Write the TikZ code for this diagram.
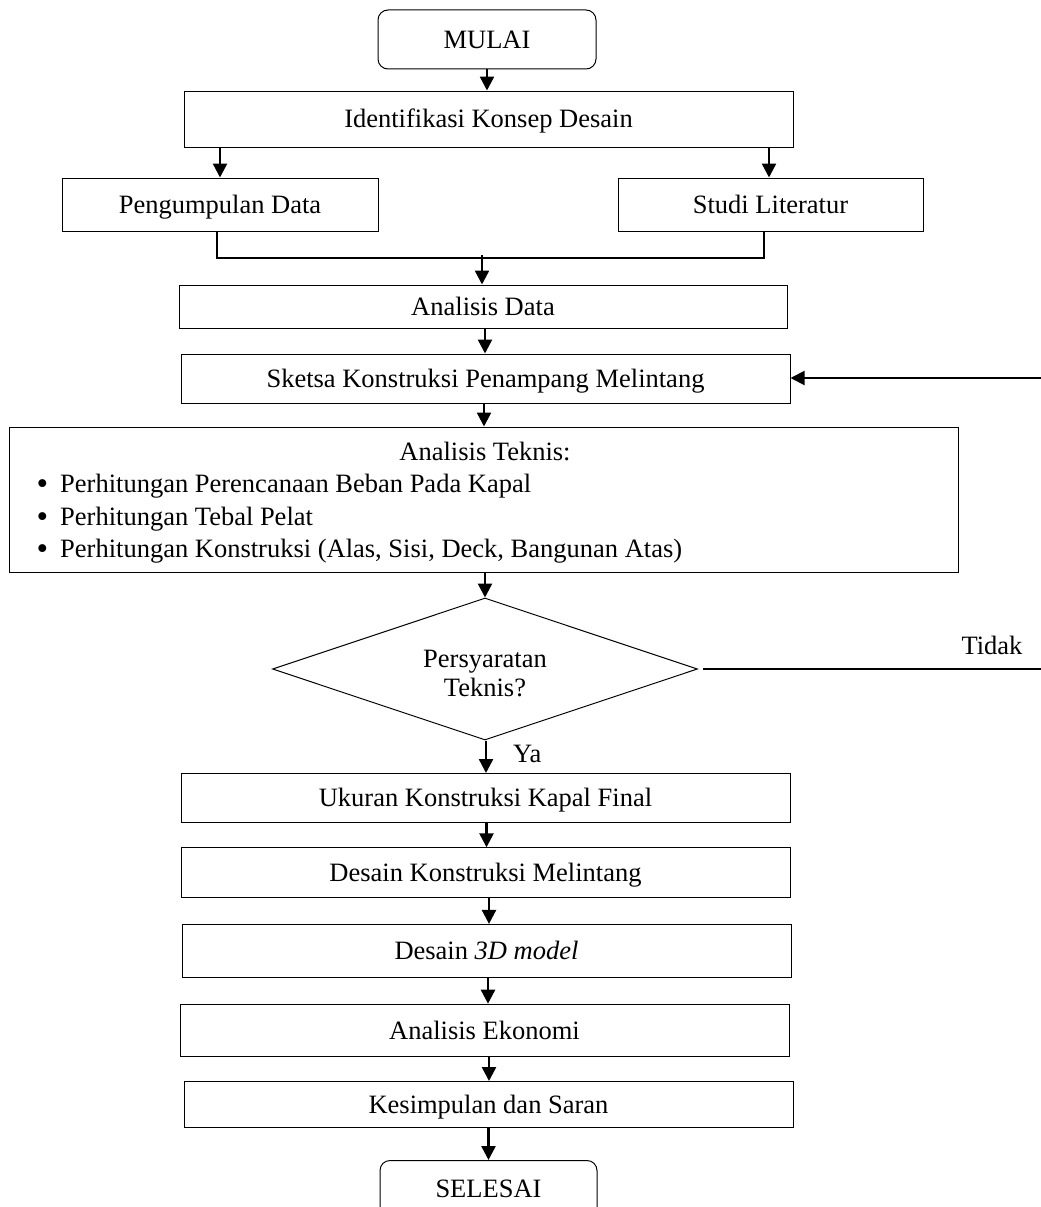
\documentclass[tikz,border=0pt]{standalone}
\usepackage{fontspec}
\setmainfont{Liberation Serif}
\usetikzlibrary{shapes.geometric,arrows.meta}
\newcommand{\bulletmark}{\llap{\raisebox{-2.5pt}{\fontsize{33}{33}\selectfont •}\hspace{12pt}}}
\begin{document}
\begin{tikzpicture}[x=1pt,y=-1pt,
  every node/.style={font=\fontsize{26.5}{29}\selectfont},
  box/.style={draw, line width=1pt, rectangle, inner sep=0pt, text height=17.5pt, text depth=0pt},
  term/.style={box, rounded corners=10pt},
  dec/.style={draw, line width=1pt, diamond, aspect=3, inner sep=0pt},
  arr/.style={line width=2.5pt, -{Triangle[width=14pt,length=14pt]}},
  conn/.style={line width=2pt},
  lbl/.style={inner sep=0pt, anchor=base}
]
\useasboundingbox (0,0) rectangle (1041,1207);

% boxes
\node[term, minimum width=218pt, minimum height=59pt] (mulai) at (487,39.5) {MULAI};
\node[box, minimum width=609pt, minimum height=56pt] (ident) at (488.5,119) {Identifikasi Konsep Desain};
\node[box, minimum width=316pt, minimum height=53pt] (kumpul) at (220,204.5) {Pengumpulan Data};
\node[box, minimum width=305pt, minimum height=53pt] (studi) at (770.5,204.5) {Studi Literatur};
\node[box, minimum width=608pt, minimum height=43pt] (adata) at (483,306.5) {Analisis Data};
\node[box, minimum width=609pt, minimum height=49pt] (sketsa) at (485.5,378.5) {Sketsa Konstruksi Penampang Melintang};
\node[box, minimum width=949pt, minimum height=145pt] (teknis) at (483.5,499.5) {};
\node[lbl] (tk0) at (485,460) {Analisis Teknis:};
\node[lbl, anchor=base west] (tk1) at (60,492) {\bulletmark Perhitungan Perencanaan Beban Pada Kapal};
\node[lbl, anchor=base west] (tk2) at (60,525) {\bulletmark Perhitungan Tebal Pelat};
\node[lbl, anchor=base west] (tk3) at (60,557) {\bulletmark Perhitungan Konstruksi (Alas, Sisi, Deck, Bangunan Atas)};

\node[dec, minimum width=425pt, minimum height=142pt] (cek) at (485,669) {};
\node[lbl] (cek1) at (485,667) {Persyaratan};
\node[lbl] (cek2) at (485,696) {Teknis?};
\node[lbl] (tidak) at (992,654) {Tidak};
\node[lbl, anchor=base west] (ya) at (513,762.5) {Ya};

\node[box, minimum width=609pt, minimum height=48.5pt] (ukuran) at (485.5,797.75) {Ukuran Konstruksi Kapal Final};
\node[box, minimum width=609pt, minimum height=49.7pt] (dkons) at (485.5,872.65) {Desain Konstruksi Melintang};
\node[box, minimum width=609pt, minimum height=53pt] (dtiga) at (486.5,950.9) {Desain \textit{3D model}};
\node[box, minimum width=609pt, minimum height=52.7pt] (eko) at (484.5,1030.55) {Analisis Ekonomi};
\node[box, minimum width=609pt, minimum height=46.4pt] (kes) at (488.5,1104.7) {Kesimpulan dan Saran};
\node[term, minimum width=217pt, minimum height=80pt, anchor=north] (selesai) at (488.5,1160) {};
\node[lbl] (selesaitxt) at (488.5,1197) {SELESAI};

% connectors
\draw[arr] (mulai.south) -- (mulai.south |- ident.north);
\draw[arr] (kumpul.north |- ident.south) -- (kumpul.north);
\draw[arr] ([xshift=-1.5pt]studi.north |- ident.south) -- ([xshift=-1.5pt]studi.north);

\coordinate (mL) at (217,258);
\coordinate (mR) at (764,258);
\coordinate (mM) at (482,255);
\draw[conn] (kumpul.south -| mL) -- (mL) -- (mR) -- (studi.south -| mR);
\draw[arr] (mM) -- (mM |- adata.north);

\draw[arr] ([xshift=2pt]adata.south) -- ([xshift=2pt]adata.south |- sketsa.north);
\draw[arr] ([xshift=-1.5pt]sketsa.south) -- ([xshift=-1.5pt]sketsa.south |- teknis.north);
\draw[arr] ([xshift=1.5pt]teknis.south) -- (cek.north);

\coordinate (tidakEnd) at (1041,669);
\coordinate (loopStart) at (1041,378);
\draw[conn] ([xshift=5pt]cek.east) -- (tidakEnd);
\draw[arr, line width=2pt] (loopStart) -- (loopStart -| sketsa.east);

\draw[arr] ([xshift=1pt]cek.south) -- ([xshift=1pt]cek.south |- ukuran.north);
\draw[arr] ([xshift=1pt]ukuran.south) -- ([xshift=1pt]ukuran.south |- dkons.north);
\draw[arr] ([xshift=3.5pt]dkons.south) -- ([xshift=3.5pt]dkons.south |- dtiga.north);
\draw[arr] ([xshift=1.5pt]dtiga.south) -- ([xshift=1.5pt]dtiga.south |- eko.north);
\draw[arr] ([xshift=4.5pt]eko.south) -- ([xshift=4.5pt]eko.south |- kes.north);
\draw[arr] (kes.south) -- (kes.south |- selesai.north);
\end{tikzpicture}
\end{document}
